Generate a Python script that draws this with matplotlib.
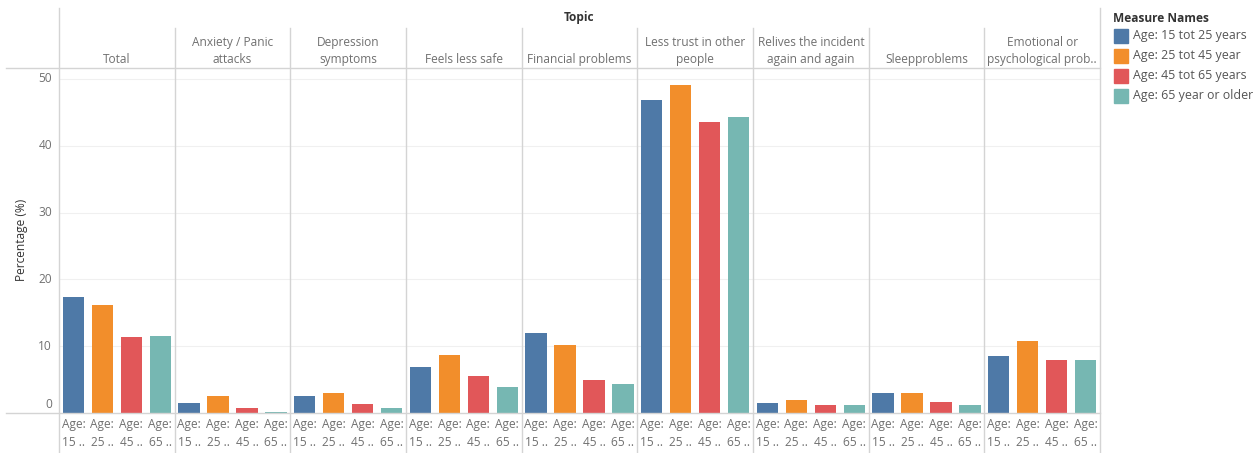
import matplotlib
matplotlib.use("Agg")
import matplotlib.pyplot as plt
from matplotlib.lines import Line2D
from matplotlib.patches import Rectangle

# --- DATA ---
topics = ["Total", "Anxiety / Panic\nattacks", "Depression\nsymptoms", "Feels less safe",
          "Financial problems", "Less trust in other\npeople", "Relives the incident\nagain and again",
          "Sleepproblems", "Emotional or\npsychological prob.."]
series = ["Age: 15 tot 25 years", "Age: 25 tot 45 year", "Age: 45 tot 65 years", "Age: 65 year or older"]
tick_labels = ["Age:\n15 ..", "Age:\n25 ..", "Age:\n45 ..", "Age:\n65 .."]
age_15_25 = [17.4, 1.5, 2.5, 6.9, 12.0, 46.9, 1.5, 3.0, 8.6]
age_25_45 = [16.2, 2.5, 3.0, 8.7, 10.2, 49.1, 1.9, 3.0, 10.8]
age_45_65 = [11.4, 0.7, 1.3, 5.5, 4.9, 43.6, 1.2, 1.6, 8.0]
age_65_up = [11.5, 0.2, 0.7, 3.9, 4.3, 44.3, 1.2, 1.2, 8.0]
y_ticks = [0, 10, 20, 30, 40, 50]

colors = ["#4E79A7", "#F28E2B", "#E15759", "#76B7B2"]
grey = "#707070"
line_c = "#d4d4d4"
plt.rcParams['font.family'] = ['Open Sans', 'DejaVu Sans']

W, H = 1258, 453
fig = plt.figure(figsize=(W / 100, H / 100), dpi=100)

def fx(x):
    return x / W

def fy(y):
    return 1 - y / H

def hline(x0, x1, y, c=line_c, lw=1.0):
    fig.add_artist(Line2D([fx(x0), fx(x1)], [fy(y), fy(y)], color=c, lw=lw))

def vline(x, y0, y1, c=line_c, lw=1.0):
    fig.add_artist(Line2D([fx(x), fx(x)], [fy(y0), fy(y1)], color=c, lw=lw))

left, right = 59, 1100
top, base = 68, 413
pw = (right - left) / len(topics)
ymax = 50 * (base - top) / (base - 79)

values = [age_15_25, age_25_45, age_45_65, age_65_up]

for i, topic in enumerate(topics):
    x0 = left + i * pw
    ax = fig.add_axes([fx(x0), fy(base), fx(pw), (base - top) / H])
    ax.set_xlim(0, 4)
    ax.set_ylim(0, ymax)
    for y in y_ticks[1:]:
        ax.axhline(y, color="#f0f0f0", lw=0.8, zorder=0)
    for k in range(4):
        ax.bar(k + 0.5, values[k][i], width=0.74, color=colors[k], zorder=2)
    ax.set_xticks([])
    ax.set_yticks([])
    for s in ax.spines.values():
        s.set_visible(False)
    ax.patch.set_alpha(0)
    # header text
    fig.text(fx(x0 + pw / 2), fy(66), topic, ha="center", va="bottom",
             fontsize=8.6, color=grey, linespacing=1.4)
    # tick labels below axis
    for k in range(4):
        fig.text(fx(x0 + pw * (k + 0.5) / 4), fy(418), tick_labels[k], ha="center", va="top",
                 fontsize=8.6, color=grey, linespacing=1.45)
    if i > 0:
        vline(x0, 28, H)

# y axis labels
for y in y_ticks:
    py = base - (base - 79) * y / 50
    if y == 0:
        py = 405
    fig.text(fx(52), fy(py), str(y), ha="right", va="center", fontsize=8.6, color=grey)
fig.text(fx(22), fy(240), "Percentage (%)", rotation=90, ha="center", va="center",
         fontsize=8.6, color="#333333")

# frame lines
hline(6, right, top)
hline(6, right, base)
vline(left, 8, H)
vline(right, 8, H)

fig.text(fx((left + right) / 2), fy(18), "Topic", ha="center", va="center",
         fontsize=8.6, fontweight="bold", color="#333333")

# legend
fig.text(fx(1113), fy(18), "Measure Names", ha="left", va="center",
         fontsize=8.6, fontweight="bold", color="#333333")
for k, name in enumerate(series):
    cy = 36 + k * 20
    fig.add_artist(Rectangle((fx(1114), fy(cy + 7)), fx(14), 14 / H, color=colors[k]))
    fig.text(fx(1133), fy(cy), name, ha="left", va="center", fontsize=8.9, color="#555555")

fig.savefig("out.png", dpi=100, facecolor="white")
